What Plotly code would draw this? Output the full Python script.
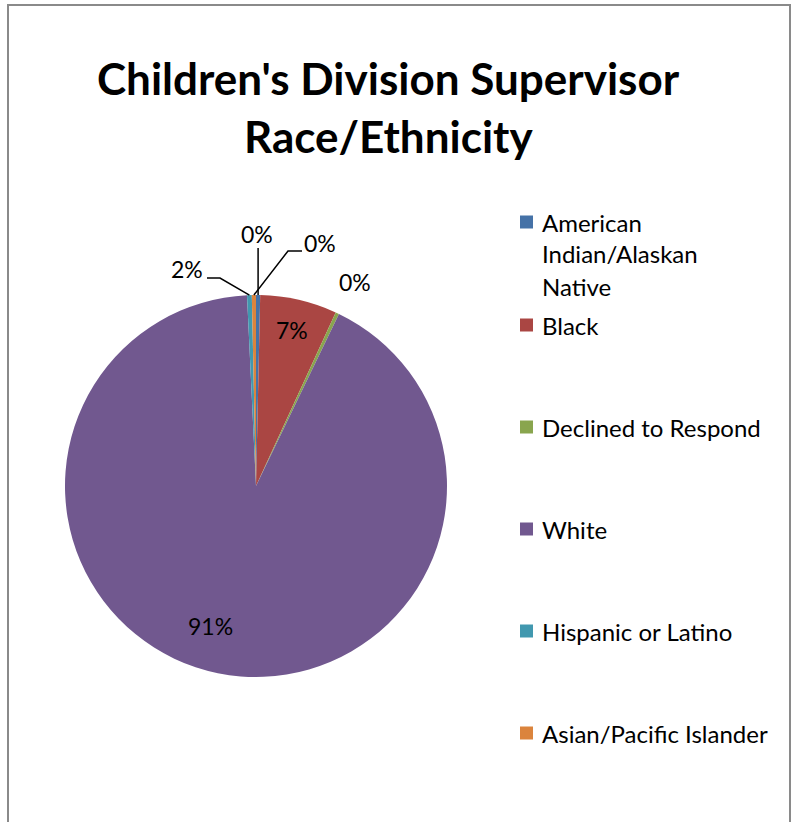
import math
import plotly.graph_objects as go

# ---------------- data ----------------
categories = ["American Indian/Alaskan Native", "Black", "Declined to Respond",
              "White", "Hispanic or Latino", "Asian/Pacific Islander"]
values = [0.35, 6.5, 0.3, 92.1, 0.4, 0.35]          # share of supervisors (%)
pct_labels = ["0%", "7%", "0%", "91%", "2%", "0%"]  # data labels as printed
colors = ["#4572A7", "#AA4643", "#89A54E", "#71588F", "#4198AF", "#DB843D"]
title_lines = ["Children's Division Supervisor", "Race/Ethnicity"]

# ---------------- layout constants (pixels) ----------------
W, H = 792, 822
CX, CY, R = 256, 486, 191
FONT = "Lato, Carlito, Calibri, sans-serif"


def px(x):
    return x / W


def py(y):
    return 1 - y / H


total = sum(values)
mid_angles = []
acc = 0.0
for v in values:
    mid_angles.append((acc + v / 2) / total * 360.0)
    acc += v


def polar(theta_deg, frac):
    t = math.radians(theta_deg)
    return CX + frac * R * math.sin(t), CY - frac * R * math.cos(t)


fig = go.Figure(go.Pie(
    labels=categories, values=values, sort=False, direction="clockwise",
    rotation=0, marker=dict(colors=colors, line=dict(width=0)),
    textinfo="none", hoverinfo="label+percent", showlegend=False,
    domain=dict(x=[px(CX - R), px(CX + R)], y=[py(CY + R), py(CY - R)]),
))

annotations = []
shapes = []

# --- data labels ---
# inside labels: placed on the slice mid-angle (angle offset, radius fraction)
inside = {"Black": (0.0, 0.84), "White": (6.5, 0.77)}
# outside labels: label box position and leader path (pixels)
outside = {
    "American Indian/Alaskan Native": dict(pos=(257, 234), leader=[("rimx", 248)]),
    "Asian/Pacific Islander": dict(pos=(320, 243), leader=[(302, 251), (288, 251)]),
    "Hispanic or Latino": dict(pos=(187, 269), leader=[(207, 278), (220, 278)]),
    "Declined to Respond": dict(pos=(355, 282), leader=None),
}
for i, cat in enumerate(categories):
    if cat in inside:
        dth, frac = inside[cat]
        x, y = polar(mid_angles[i] + dth, frac)
    else:
        o = outside[cat]
        x, y = o["pos"]
        rim_x, rim_y = polar(mid_angles[i], 1.0)
        if o["leader"]:
            pts = []
            for (lx, ly) in o["leader"]:
                pts.append((rim_x if lx == "rimx" else lx, ly))
            pts.append((rim_x, rim_y))
            path = "M " + " L ".join(f"{px(a):.5f},{py(b):.5f}" for a, b in pts)
            shapes.append(dict(type="path", xref="paper", yref="paper", path=path,
                               line=dict(color="black", width=1.5)))
    annotations.append(dict(x=px(x), y=py(y), xref="paper", yref="paper",
                            text=pct_labels[i], showarrow=False,
                            font=dict(family=FONT, size=23, color="black"),
                            xanchor="center", yanchor="middle"))

# --- legend (drawn as text + swatches) ---
def wrap(s, width=14, limit=24):
    if len(s) <= limit:
        return [s]
    lines, cur = [], ""
    for w in s.split():
        if cur and len(cur) + 1 + len(w) > width:
            lines.append(cur)
            cur = w
        else:
            cur = (cur + " " + w).strip()
    lines.append(cur)
    return lines


LEG_X, SW = 520, 13
LINE_H = 32
for i, cat in enumerate(categories):
    y0 = 222 if i == 0 else 325 + 102.0 * (i - 1)
    shapes.append(dict(type="rect", xref="paper", yref="paper",
                       x0=px(LEG_X), x1=px(LEG_X + SW),
                       y0=py(y0 + SW / 2), y1=py(y0 - SW / 2),
                       fillcolor=colors[i], line=dict(width=0)))
    for j, line in enumerate(wrap(cat)):
        annotations.append(dict(x=px(540), y=py(y0 + j * LINE_H), xref="paper", yref="paper",
                                text=line, showarrow=False, xanchor="left", yanchor="middle",
                                font=dict(family=FONT, size=24, color="black")))

# --- title ---
for j, t in enumerate(title_lines):
    annotations.append(dict(x=px(388), y=py(78 + j * 58), xref="paper", yref="paper",
                            text=f"<b>{t}</b>", showarrow=False, xanchor="center",
                            yanchor="middle",
                            font=dict(family=FONT, size=44, color="black")))

# --- chart frame ---
shapes.append(dict(type="rect", xref="paper", yref="paper",
                   x0=px(8), x1=px(790), y0=py(835), y1=py(5),
                   line=dict(color="#8a8a8a", width=2), fillcolor="rgba(0,0,0,0)"))

fig.update_layout(
    width=W, height=H, autosize=False,
    margin=dict(l=0, r=0, t=0, b=0),
    paper_bgcolor="white", plot_bgcolor="white",
    annotations=annotations, shapes=shapes,
)

fig.write_html("out.html", config={"displayModeBar": False},
               post_script="document.body.style.margin='0';document.body.style.overflow='hidden';")
